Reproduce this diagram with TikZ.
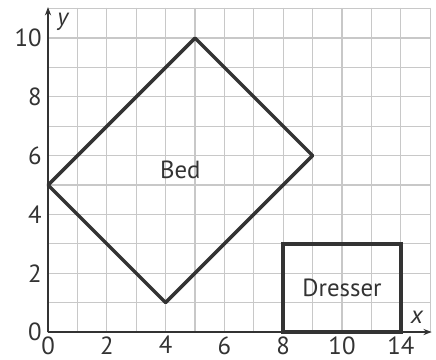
\documentclass[tikz,border=0pt]{standalone}
\usepackage{fontspec}
\setmainfont{PT Sans}
\usetikzlibrary{arrows.meta}
\definecolor{ink}{HTML}{333333}
\definecolor{gridgray}{HTML}{C8C8C8}

\begin{document}
\begin{tikzpicture}[line cap=round,line join=round,>={Stealth[length=8pt,width=6pt]},
  every node/.style={inner sep=1pt,text=ink,font=\fontsize{24}{28}\selectfont},
  axis/.style={->,ink,line width=2.4pt,line cap=butt},
  outline/.style={ink,line width=3.4pt}]
  \useasboundingbox (-1.633,-0.952) rectangle (13.197,11.293);
  \draw[gridgray,line width=1.2pt] (0,0) grid (13,11);
  % axes
  \coordinate (O) at (0,0);
  \coordinate (xend) at (13.05,0);
  \coordinate (yend) at (0,11.05);
  \draw[axis] (O) -- (xend);
  \draw[axis] (O) -- (yend);
  \node (xlab) at (12.55,0.5) {\itshape x};
  \node (ylab) at (0.5,10.55) {\itshape y};
  % tick labels
  \foreach \t in {0,2,4,6,8,10}
    \node[below=3pt] (xt\t) at (\t,0) {\t};
  \node[below=3pt] (xt14) at (12,0) {14};
  \foreach \t in {0,2,4,6,8,10}
    \node[left=5pt] (yt\t) at (0,\t) {\t};
  % bed
  \coordinate (b1) at (0,5);
  \coordinate (b2) at (5,10);
  \coordinate (b3) at (9,6);
  \coordinate (b4) at (4,1);
  \draw[outline] (b1) -- (b2) -- (b3) -- (b4) -- cycle;
  \node (bed) at (4.5,5.5) {Bed};
  % dresser
  \draw[outline,line join=miter] (8,0) rectangle (12,3);
  \node (dresser) at (10,1.5) {Dresser};
\end{tikzpicture}
\end{document}
